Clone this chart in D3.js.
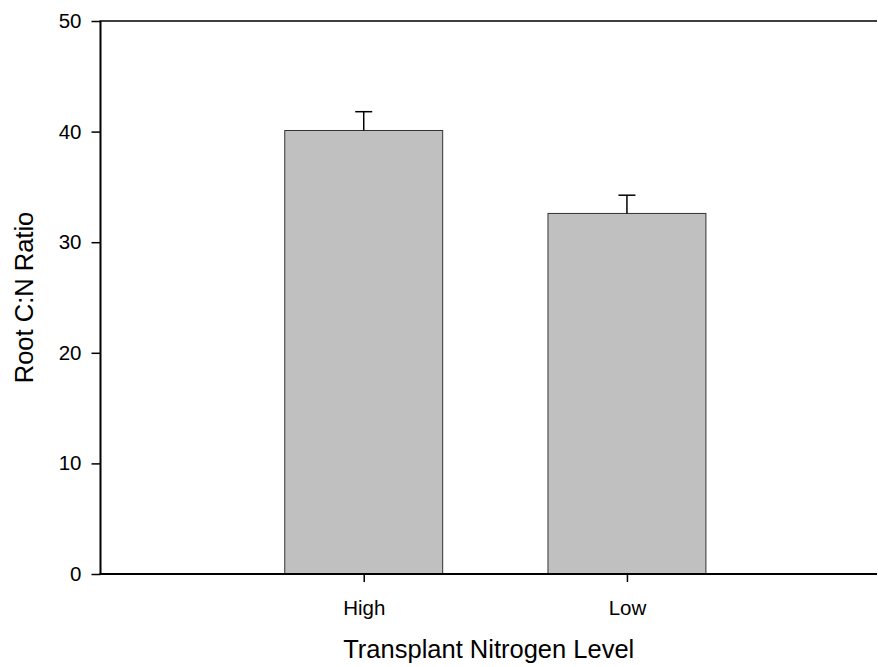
<!DOCTYPE html>
<html>
<head>
<meta charset="utf-8">
<script src="https://cdn.jsdelivr.net/npm/d3@7"></script>
<style>
  html, body { margin: 0; padding: 0; background: #fff; }
  svg { display: block; font-family: "Liberation Sans", Arial, sans-serif; }
</style>
</head>
<body>
<svg id="chart" width="878" height="667"></svg>
<script>
// Root C:N ratio by transplant nitrogen level (mean + standard error)
const categories = ["High", "Low"];
const means = [40.1, 32.6];
const stdErrors = [1.7, 1.65];
const yTicks = [0, 10, 20, 30, 40, 50];

const svg = d3.select("#chart");
const plotLeft = 100.5, plotRight = 877, plotTop = 21, plotBottom = 574;

// x positions: category i sits at i + 1 on a continuous axis starting at 0
const x = d3.scaleLinear().domain([0, 2.95]).range([plotLeft, plotRight]);
const y = d3.scaleLinear().domain([0, 50]).range([plotBottom, plotTop]);
const barWidth = 0.6;

const data = categories.map((c, i) => ({ cat: c, pos: i + 1, mean: means[i], se: stdErrors[i] }));

// bars
svg.append("g").selectAll("rect").data(data).join("rect")
  .attr("x", d => x(d.pos - barWidth / 2))
  .attr("width", d => x(d.pos + barWidth / 2) - x(d.pos - barWidth / 2))
  .attr("y", d => y(d.mean))
  .attr("height", d => y(0) - y(d.mean))
  .attr("fill", "#c0c0c0")
  .attr("stroke", "#333")
  .attr("stroke-width", 1);

// upper error bars with caps
const err = svg.append("g").attr("stroke", "#000").attr("stroke-width", 1.5);
err.selectAll("line.stem").data(data).join("line").attr("class", "stem")
  .attr("x1", d => x(d.pos)).attr("x2", d => x(d.pos))
  .attr("y1", d => y(d.mean)).attr("y2", d => y(d.mean + d.se));
err.selectAll("line.cap").data(data).join("line").attr("class", "cap")
  .attr("x1", d => x(d.pos) - 8.5).attr("x2", d => x(d.pos) + 8.5)
  .attr("y1", d => y(d.mean + d.se)).attr("y2", d => y(d.mean + d.se));

// y axis
const yAxis = d3.axisLeft(y).tickValues(yTicks).tickSize(9).tickPadding(10).tickFormat(d3.format("d"));
const gy = svg.append("g").attr("transform", `translate(${plotLeft},0)`).call(yAxis);
gy.select(".domain").remove();
gy.selectAll(".tick line").attr("stroke", "#000").attr("stroke-width", 1.5);
gy.selectAll(".tick text").attr("font-size", 20.5).attr("fill", "#000")
  .attr("font-family", "Liberation Sans, Arial, sans-serif");

// x axis
const xAxis = d3.axisBottom(x).tickValues(data.map(d => d.pos))
  .tickFormat((d, i) => categories[i]).tickSize(8).tickPadding(18);
const gx = svg.append("g").attr("transform", `translate(0,${plotBottom})`).call(xAxis);
gx.select(".domain").remove();
gx.selectAll(".tick line").attr("stroke", "#000").attr("stroke-width", 1.5);
gx.selectAll(".tick text").attr("font-size", 20.5).attr("fill", "#000")
  .attr("font-family", "Liberation Sans, Arial, sans-serif");

// frame lines: left, bottom and top
const frame = svg.append("g").attr("stroke", "#000").attr("fill", "none");
frame.append("line").attr("x1", plotLeft).attr("x2", plotLeft).attr("y1", plotTop).attr("y2", plotBottom).attr("stroke-width", 2);
frame.append("line").attr("x1", plotLeft - 1).attr("x2", plotRight).attr("y1", plotBottom).attr("y2", plotBottom).attr("stroke-width", 2);
frame.append("line").attr("x1", plotLeft - 1).attr("x2", plotRight).attr("y1", plotTop).attr("y2", plotTop).attr("stroke-width", 1.5);

// axis titles
svg.append("text")
  .attr("x", (plotLeft + plotRight) / 2).attr("y", 658)
  .attr("text-anchor", "middle").attr("font-size", 25.5)
  .text("Transplant Nitrogen Level");
svg.append("text")
  .attr("transform", `translate(33,${(plotTop + plotBottom) / 2}) rotate(-90)`)
  .attr("text-anchor", "middle").attr("font-size", 25.5)
  .text("Root C:N Ratio");
</script>
</body>
</html>
